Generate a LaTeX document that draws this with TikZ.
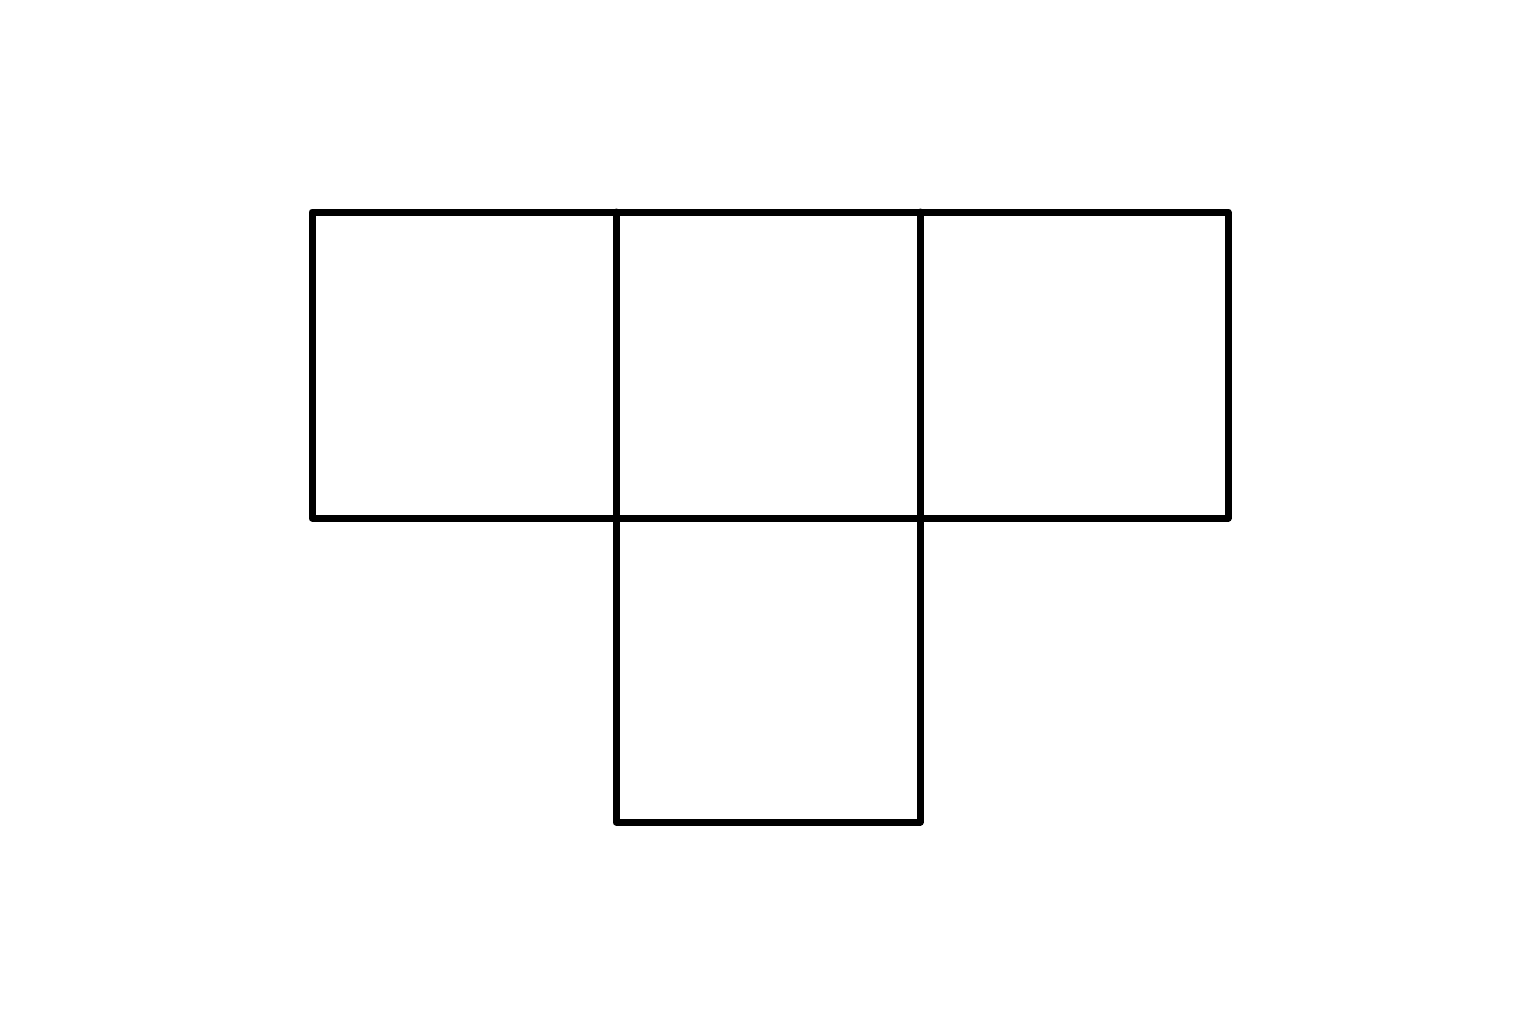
\documentclass[tikz,border=0pt]{standalone}
\begin{document}
\begin{tikzpicture}[x=0.5pt,y=-0.5pt,
  edge/.style={draw=black,line width=3.5pt,line join=round,line cap=round}]
\useasboundingbox (0,0) rectangle (1536,1024);
\coordinate (a) at (312,212);
\coordinate (b) at (1228,212);
\coordinate (c) at (1228,518);
\coordinate (d) at (312,518);
\coordinate (t1) at (616,212);
\coordinate (t2) at (920,212);
\coordinate (m1) at (616,518);
\coordinate (m2) at (920,518);
\coordinate (b1) at (616,822);
\coordinate (b2) at (920,822);
\draw[edge] (a) -- (b) -- (c) -- (d) -- cycle;
\draw[edge] (t1) -- (b1) -- (b2) -- (t2);
\end{tikzpicture}
\end{document}
